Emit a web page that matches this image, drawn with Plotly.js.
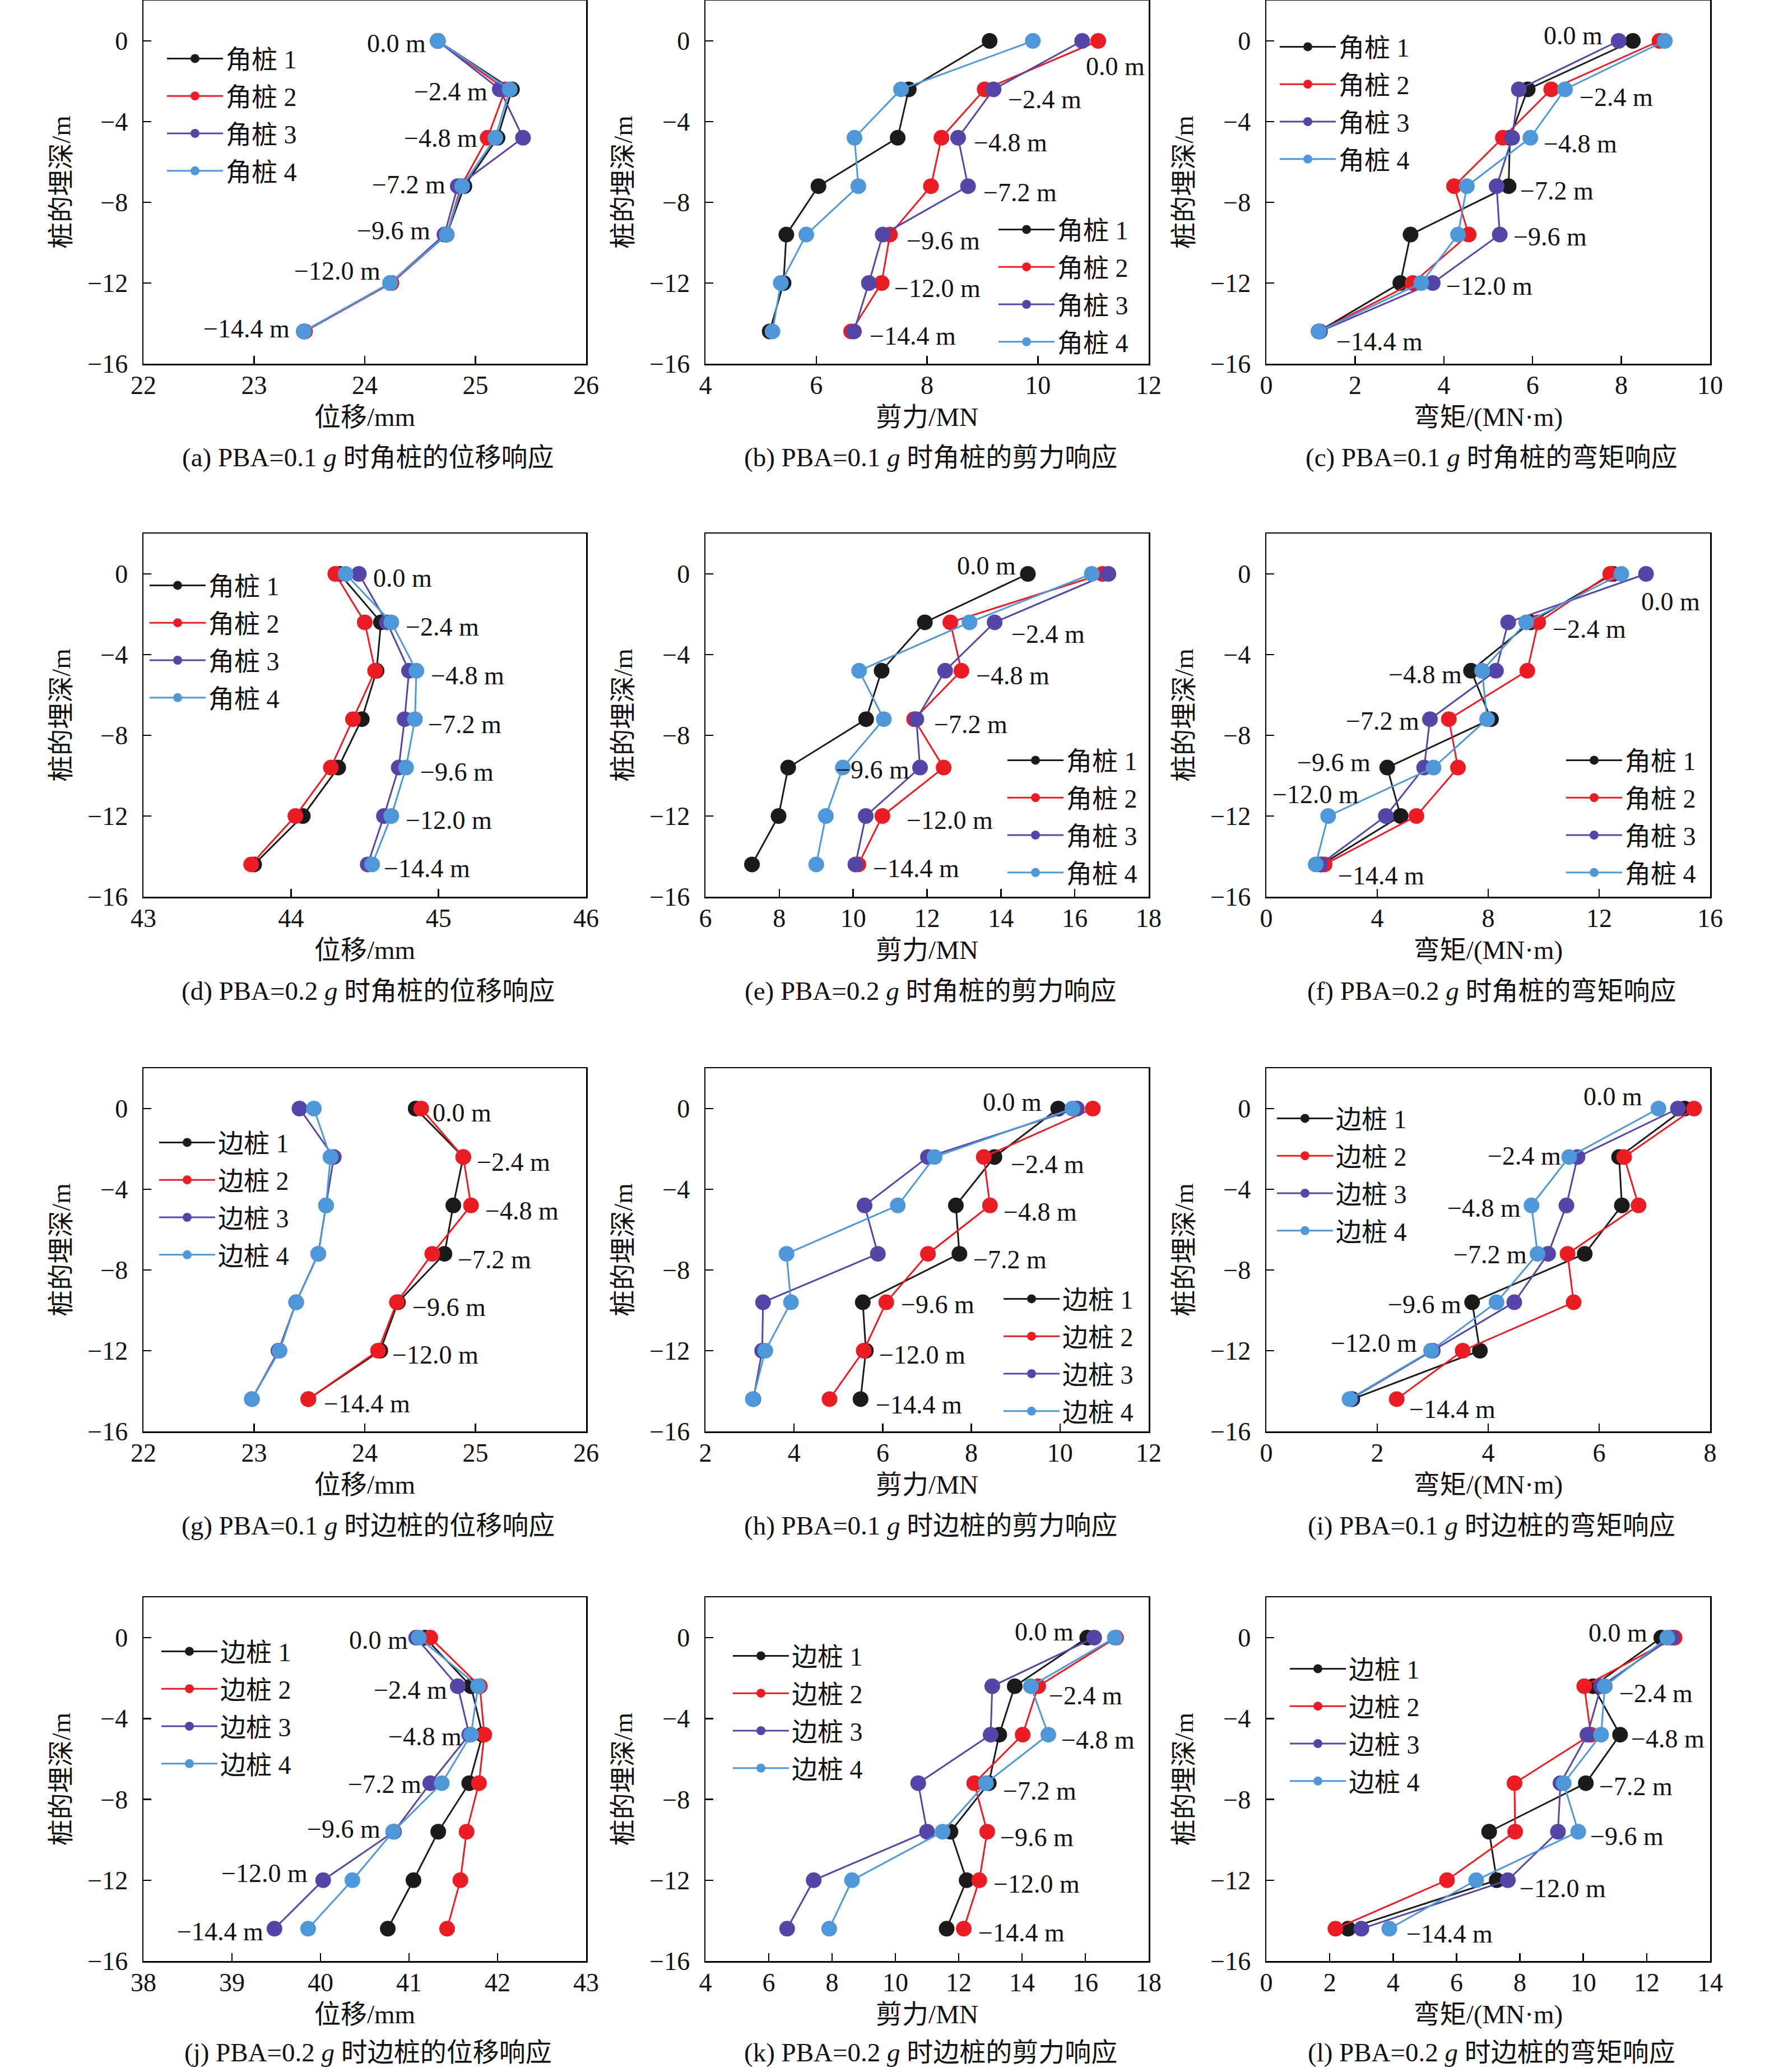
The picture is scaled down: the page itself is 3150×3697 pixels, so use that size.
<!DOCTYPE html>
<html>
<head>
<meta charset="utf-8">
<script src="https://cdn.plot.ly/plotly-3.0.1.min.js"></script>
<style>
  html, body { margin: 0; padding: 0; background: #fff; }
  #chart { width: 3150px; height: 3697px; }
</style>
</head>
<body>
<div id="chart"></div>
<script>
// Pile response vs depth, 12 panels (a)-(l)

// ---------- data ----------
const DEPTHS = [0, -2.4, -4.8, -7.2, -9.6, -12.0, -14.4];
const DEPTH_TEXT = ['0.0 m', '\u22122.4 m', '\u22124.8 m', '\u22127.2 m', '\u22129.6 m', '\u221212.0 m', '\u221214.4 m'];
const CORNER_NAMES = ['角桩 1', '角桩 2', '角桩 3', '角桩 4'];
const EDGE_NAMES = ['边桩 1', '边桩 2', '边桩 3', '边桩 4'];

// (a) displacement, corner piles, PBA=0.1g  (mm)
const dispCorner01 = [
  [24.66, 25.33, 25.20, 24.90, 24.74, 24.24, 23.45],
  [24.66, 25.27, 25.11, 24.87, 24.74, 24.24, 23.46],
  [24.66, 25.22, 25.43, 24.84, 24.72, 24.23, 23.45],
  [24.66, 25.31, 25.18, 24.88, 24.74, 24.23, 23.45]
];
// (b) shear, corner piles, 0.1g (MN)
const shearCorner01 = [
  [9.13, 7.67, 7.47, 6.04, 5.46, 5.41, 5.16],
  [11.09, 9.04, 8.26, 8.07, 7.33, 7.18, 6.63],
  [10.80, 9.20, 8.56, 8.74, 7.20, 6.95, 6.68],
  [9.91, 7.53, 6.69, 6.76, 5.82, 5.36, 5.21]
];
// (c) moment, corner piles, 0.1g (MN·m)
const momentCorner01 = [
  [8.26, 5.89, 5.49, 5.46, 3.25, 3.02, 1.18],
  [8.86, 6.42, 5.33, 4.23, 4.56, 3.30, 1.18],
  [7.94, 5.69, 5.54, 5.19, 5.26, 3.75, 1.21],
  [8.98, 6.73, 5.95, 4.52, 4.32, 3.49, 1.18]
];
// (d) displacement, corner piles, 0.2g
const dispCorner02 = [
  [44.33, 44.61, 44.58, 44.48, 44.32, 44.08, 43.75],
  [44.30, 44.50, 44.57, 44.42, 44.27, 44.03, 43.73],
  [44.46, 44.65, 44.80, 44.77, 44.73, 44.63, 44.52],
  [44.37, 44.68, 44.85, 44.84, 44.78, 44.68, 44.55]
];
// (e) shear, corner piles, 0.2g
const shearCorner02 = [
  [14.73, 11.94, 10.77, 10.35, 8.24, 7.98, 7.26],
  [16.75, 12.63, 12.93, 11.65, 12.45, 10.79, 10.14],
  [16.91, 13.83, 12.49, 11.71, 11.81, 10.34, 10.06],
  [16.46, 13.15, 10.16, 10.83, 9.72, 9.26, 9.00]
];
// (f) moment, corner piles, 0.2g
const momentCorner02 = [
  [12.50, 9.53, 7.38, 8.10, 4.36, 4.84, 2.00],
  [12.40, 9.80, 9.41, 6.58, 6.91, 5.41, 2.10],
  [13.69, 8.72, 8.28, 5.90, 5.69, 4.31, 1.94],
  [12.80, 9.37, 7.78, 7.96, 6.03, 2.23, 1.78]
];
// (g) displacement, edge piles, 0.1g
const dispEdge01 = [
  [24.46, 24.89, 24.80, 24.72, 24.30, 24.14, 23.49],
  [24.51, 24.89, 24.96, 24.61, 24.29, 24.12, 23.49],
  [23.41, 23.72, 23.65, 23.58, 23.38, 23.22, 22.98],
  [23.54, 23.69, 23.65, 23.58, 23.38, 23.23, 22.98]
];
// (h) shear, edge piles, 0.1g
const shearEdge01 = [
  [9.96, 8.52, 7.65, 7.73, 5.55, 5.62, 5.50],
  [10.74, 8.28, 8.42, 7.02, 6.08, 5.57, 4.80],
  [10.38, 7.02, 5.59, 5.89, 3.30, 3.28, 3.08],
  [10.28, 7.17, 6.34, 3.83, 3.93, 3.35, 3.07]
];
// (i) moment, edge piles, 0.1g
const momentEdge01 = [
  [7.54, 6.36, 6.41, 5.74, 3.71, 3.85, 1.55],
  [7.71, 6.45, 6.71, 5.43, 5.54, 3.54, 2.35],
  [7.42, 5.61, 5.41, 5.08, 4.47, 3.00, 1.52],
  [7.07, 5.46, 4.78, 4.89, 4.15, 2.97, 1.50]
];
// (j) displacement, edge piles, 0.2g
const dispEdge02 = [
  [41.18, 41.70, 41.83, 41.68, 41.33, 41.05, 40.76],
  [41.24, 41.80, 41.85, 41.79, 41.65, 41.58, 41.43],
  [41.08, 41.55, 41.68, 41.24, 40.83, 40.03, 39.48],
  [41.11, 41.78, 41.70, 41.37, 40.82, 40.36, 39.86]
];
// (k) shear, edge piles, 0.2g
const shearEdge02 = [
  [16.06, 13.77, 13.28, 12.95, 11.74, 12.25, 11.62],
  [16.97, 14.51, 14.02, 12.49, 12.90, 12.65, 12.16],
  [16.28, 13.06, 13.01, 10.72, 11.00, 7.42, 6.58],
  [16.93, 14.28, 14.83, 12.86, 11.49, 8.63, 7.91]
];
// (l) moment, edge piles, 0.2g
const momentEdge02 = [
  [12.46, 10.31, 11.16, 10.08, 7.03, 7.27, 2.58],
  [12.88, 10.03, 10.24, 7.83, 7.85, 5.70, 2.18],
  [12.79, 10.56, 10.13, 9.28, 9.20, 7.62, 3.00],
  [12.65, 10.68, 10.56, 9.38, 9.84, 6.62, 3.88]
];

// ---------- depth label placement (data coords, anchor side) ----------
const labA = [[24.56,0,'r'],[25.12,-2.4,'r'],[25.03,-4.7,'r'],[24.74,-7.0,'r'],[24.60,-9.3,'r'],[24.15,-11.3,'r'],[23.33,-14.15,'r']];
const labB = [[10.85,-1.15,'l'],[9.44,-2.8,'l'],[8.82,-4.92,'l'],[9.0,-7.39,'l'],[7.61,-9.8,'l'],[7.39,-12.15,'l'],[6.94,-14.5,'l']];
const labC = [[6.23,0.38,'l'],[7.03,-2.68,'l'],[6.22,-4.98,'l'],[5.70,-7.33,'l'],[5.54,-9.6,'l'],[4.03,-12.05,'l'],[1.55,-14.8,'l']];
const labD = [[44.55,-0.1,'l'],[44.77,-2.5,'l'],[44.94,-4.93,'l'],[44.92,-7.35,'l'],[44.87,-9.7,'l'],[44.77,-12.1,'l'],[44.62,-14.48,'l']];
const labE = [[14.43,0.5,'r'],[14.25,-2.87,'l'],[13.29,-4.93,'l'],[12.16,-7.35,'l'],[9.51,-9.6,'l'],[11.41,-12.1,'l'],[10.50,-14.48,'l']];
const labF = [[13.48,-1.27,'l'],[10.28,-2.63,'l'],[7.09,-4.87,'r'],[5.55,-7.17,'r'],[3.80,-9.23,'r'],[3.38,-10.83,'r'],[2.55,-14.84,'l']];
const labG = [[24.60,-0.1,'l'],[25.00,-2.53,'l'],[25.08,-4.95,'l'],[24.83,-7.37,'l'],[24.42,-9.73,'l'],[24.24,-12.1,'l'],[23.62,-14.5,'l']];
const labH = [[9.61,0.42,'r'],[8.86,-2.64,'l'],[8.70,-5.0,'l'],[8.02,-7.37,'l'],[6.39,-9.6,'l'],[5.89,-12.1,'l'],[5.82,-14.57,'l']];
const labI = [[6.80,0.72,'r'],[5.33,-2.23,'r'],[4.61,-4.83,'r'],[4.72,-7.13,'r'],[3.54,-9.61,'r'],[2.74,-11.5,'r'],[2.56,-14.8,'l']];
const labJ = [[41.0,0,'r'],[41.44,-2.47,'r'],[41.61,-4.77,'r'],[41.15,-7.13,'r'],[40.69,-9.36,'r'],[39.87,-11.54,'r'],[39.37,-14.43,'r']];
const labK = [[15.67,0.41,'r'],[14.81,-2.77,'l'],[15.21,-4.95,'l'],[13.37,-7.48,'l'],[13.28,-9.78,'l'],[13.07,-12.07,'l'],[12.58,-14.49,'l']];
const labL = [[12.06,0.35,'r'],[11.10,-2.65,'l'],[11.47,-4.9,'l'],[10.47,-7.24,'l'],[10.19,-9.72,'l'],[7.96,-12.31,'l'],[4.39,-14.55,'l']];

// ---------- layout helpers ----------
const W = 3150, H = 3697;
const FONT = 'Liberation Serif, "Noto Sans CJK SC", serif';
const COLORS = ['#1c1a1b', '#ec1c24', '#5346a6', '#4e97d9'];
const COLS = [[256, 1046], [1259, 2050], [2260, 3052]];
const ROWS = [[1, 649], [952, 1600], [1906, 2554], [2850, 3499]];
const XTITLES = ['位移/mm', '剪力/MN', '弯矩/(MN·m)'];
const KINDS = ['位移', '剪力', '弯矩'];
const CAPTION_Y = [816, 1768, 2722, 3662];

const panels = [
  { data: dispCorner01,   names: CORNER_NAMES, range: [22, 26], dtick: 1, lab: labA, leg: [303, 104] },
  { data: shearCorner01,  names: CORNER_NAMES, range: [4, 12],  dtick: 2, lab: labB, leg: [1787, 409] },
  { data: momentCorner01, names: CORNER_NAMES, range: [0, 10],  dtick: 2, lab: labC, leg: [2289, 83] },
  { data: dispCorner02,   names: CORNER_NAMES, range: [43, 46], dtick: 1, lab: labD, leg: [272, 1044] },
  { data: shearCorner02,  names: CORNER_NAMES, range: [6, 18],  dtick: 2, lab: labE, leg: [1803, 1356] },
  { data: momentCorner02, names: CORNER_NAMES, range: [0, 16],  dtick: 4, lab: labF, leg: [2800, 1356] },
  { data: dispEdge01,     names: EDGE_NAMES,   range: [22, 26], dtick: 1, lab: labG, leg: [289, 2038] },
  { data: shearEdge01,    names: EDGE_NAMES,   range: [2, 12],  dtick: 2, lab: labH, leg: [1796, 2317] },
  { data: momentEdge01,   names: EDGE_NAMES,   range: [0, 8],   dtick: 2, lab: labI, leg: [2284, 1995] },
  { data: dispEdge02,     names: EDGE_NAMES,   range: [38, 43], dtick: 1, lab: labJ, leg: [293, 2946] },
  { data: shearEdge02,    names: EDGE_NAMES,   range: [4, 18],  dtick: 2, lab: labK, leg: [1313, 2954] },
  { data: momentEdge02,   names: EDGE_NAMES,   range: [0, 14],  dtick: 2, lab: labL, leg: [2307, 2977] }
];

const traces = [];
const layout = {
  width: W, height: H,
  margin: { l: 0, r: 0, t: 0, b: 0 },
  paper_bgcolor: '#fff', plot_bgcolor: '#fff',
  font: { family: FONT, size: 46, color: '#111' },
  showlegend: true,
  annotations: []
};

panels.forEach((p, i) => {
  const n = i + 1;
  const col = i % 3, row = Math.floor(i / 3);
  const xs = n === 1 ? '' : String(n);
  const legKey = n === 1 ? 'legend' : 'legend' + n;
  const letter = 'abcdefghijkl'[i];

  p.data.forEach((vals, k) => {
    traces.push({
      type: 'scatter', mode: 'lines+markers',
      x: vals, y: DEPTHS,
      xaxis: 'x' + xs, yaxis: 'y' + xs,
      name: p.names[k], legend: legKey, legendgroup: 'g' + n + '_' + k,
      line: { color: COLORS[k], width: 3 },
      marker: { color: COLORS[k], size: 28 },
      cliponaxis: false
    });
  });

  const axCommon = {
    ticks: 'inside', ticklen: 14, tickwidth: 2.5, tickcolor: '#000',
    showline: true, linewidth: 2.5, linecolor: '#000', mirror: true,
    showgrid: false, zeroline: false,
    tickfont: { family: FONT, size: 46, color: '#111' }
  };
  layout['xaxis' + xs] = Object.assign({}, axCommon, {
    domain: [COLS[col][0] / W, COLS[col][1] / W],
    anchor: 'y' + xs,
    range: p.range, tick0: p.range[0], dtick: p.dtick,
    ticklabelstandoff: -4,
    title: { text: XTITLES[col], font: { family: FONT, size: 47, color: '#111' }, standoff: 16 }
  });
  layout['yaxis' + xs] = Object.assign({}, axCommon, {
    domain: [1 - ROWS[row][1] / H, 1 - ROWS[row][0] / H],
    anchor: 'x' + xs,
    range: [-16, 2], tick0: 0, dtick: 4,
    ticklabelstandoff: 16,
    title: { text: '桩的埋深/m', font: { family: FONT, size: 47, color: '#111' }, standoff: 16 }
  });

  layout[legKey] = {
    x: (p.leg[0] - 10) / W, y: 1 - (p.leg[1] - 36) / H,
    xanchor: 'left', yanchor: 'top',
    bgcolor: 'rgba(0,0,0,0)', borderwidth: 0,
    font: { family: FONT, size: 46, color: '#111' },
    itemwidth: 100, tracegroupgap: 4, itemsizing: 'trace'
  };

  p.lab.forEach((l, d) => {
    layout.annotations.push({
      xref: 'x' + xs, yref: 'y' + xs,
      x: l[0], y: l[1], text: DEPTH_TEXT[d],
      xanchor: l[2] === 'r' ? 'right' : 'left', yanchor: 'middle',
      yshift: -4, showarrow: false,
      font: { family: FONT, size: 46, color: '#111' }
    });
  });

  const pga = row === 0 || row === 2 ? '0.1' : '0.2';
  const pile = row < 2 ? '角桩' : '边桩';
  layout.annotations.push({
    xref: 'paper', yref: 'paper',
    x: (COLS[col][0] + COLS[col][1]) / 2 / W + 6 / W,
    y: 1 - CAPTION_Y[row] / H,
    xanchor: 'center', yanchor: 'middle', showarrow: false,
    text: '(' + letter + ') PBA=' + pga + ' <i>g</i> 时' + pile + '的' + KINDS[col] + '响应',
    font: { family: FONT, size: 47, color: '#111' }
  });
});

Plotly.newPlot('chart', traces, layout, { displayModeBar: false, staticPlot: true });
</script>
</body>
</html>
